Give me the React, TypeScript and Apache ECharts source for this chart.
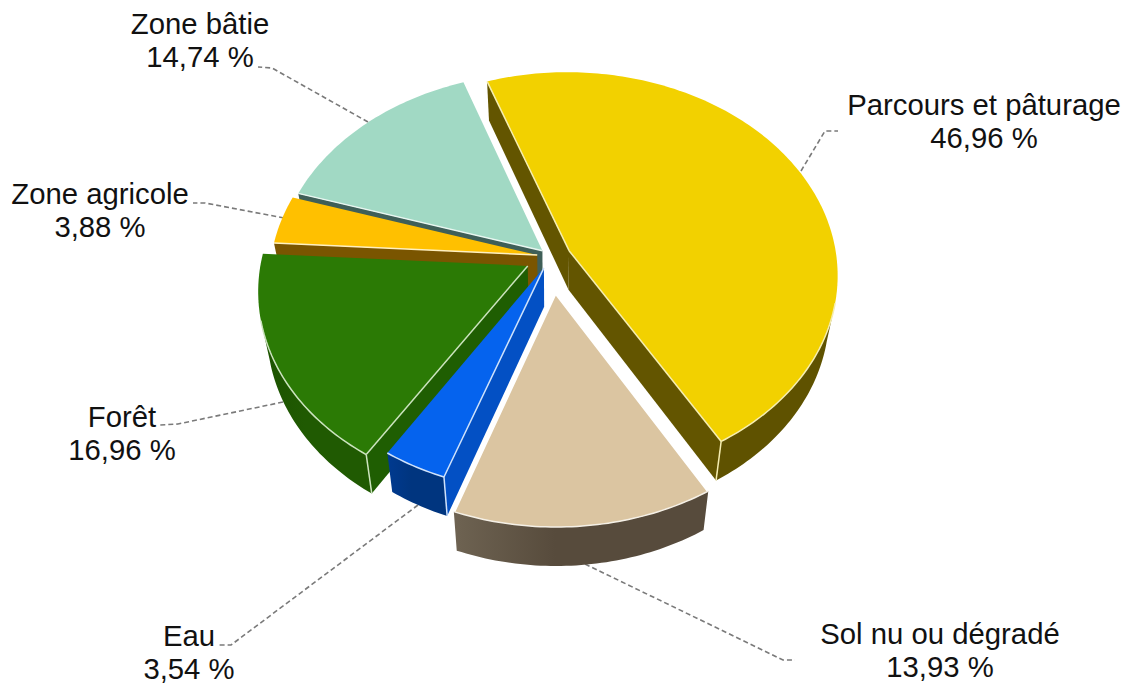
import React, { useEffect, useRef } from "react";
import * as echarts from "echarts";

const categories = ["Parcours et pâturage", "Sol nu ou dégradé", "Eau", "Forêt", "Zone agricole", "Zone bâtie"];
const shares = [46.96, 13.93, 3.54, 16.96, 3.88, 14.74];
const explosion = [20, 47, 16, 26, 14, 12];
const radii = [267.5, 264.5, 261, 266, 266, 266];
const paintOrder = [5, 4, 3, 2, 0, 1];

const topColors = ["#F2D100", "#DBC5A1", "#0563EE", "#2B7A05", "#FFC000", "#A1D9C4"];
const cutColors = ["#635500", "#5C5040", "#0350C4", "#1F5E02", "#7A5500", "#3F5F58"];
const wallLeft = ["#5F5200", "#6E6352", "#003A90", "#1C5200", "#7A5500", "#3F5F58"];
const wallRight = ["#5F5200", "#574B3C", "#00357F", "#205A02", "#7A5500", "#3F5F58"];
const edgeColors = ["#F5EDB0", "#F5F0E6", "#CFE2FB", "#CBE3BE", "#FFF0C0", "#E8F6F0"];

const labelCentres = [[984, 121], [940, 650], [189, 652], [122, 433], [100, 210], [200, 40]];
const leaders = [
  [[801, 171], [825, 131], [838, 131]],
  [[585, 564], [783, 660], [795, 660]],
  [[418, 505], [231, 645], [218, 645]],
  [[283, 402], [178, 424], [160, 425]],
  [[284, 218], [205, 203], [193, 203]],
  [[368, 122], [272, 68], [258, 67]],
];

const CX = 551, CY = 257, TILT = 0.75, PERSP = 2300, DEPTH = 39, START = -19.5;
const total = shares.reduce((a, b) => a + b, 0);
const rad = (d: number) => (d * Math.PI) / 180;

function project(u: number, v: number) {
  const s = 1 / (1 - v / PERSP);
  return [CX + u * s, CY + TILT * v * s];
}
const drop = (p: number[]) => [p[0] - (p[0] - CX) * 0.03, p[1] + DEPTH];

function sliceAngles(i: number) {
  const before = shares.slice(0, i).reduce((a, b) => a + b, 0);
  const a0 = START + (before / total) * 360;
  return [a0, a0 + (shares[i] / total) * 360];
}

function renderSlice(_params: any, api: any) {
  const i = api.value(1);
  const R = radii[i];
  const [a0, a1] = sliceAngles(i);
  const mid = rad((a0 + a1) / 2);
  const ou = Math.sin(mid) * explosion[i];
  const ov = -Math.cos(mid) * explosion[i];
  const rim = (deg: number) => project(ou + R * Math.sin(rad(deg)), ov - R * Math.cos(rad(deg)));
  const apex = project(ou, ov);
  const arc: number[][] = [];
  const front: number[][] = [];
  const steps = Math.max(4, Math.ceil(a1 - a0));
  for (let k = 0; k <= steps; k++) {
    const d = a0 + ((a1 - a0) * k) / steps;
    arc.push(rim(d));
    if (Math.cos(rad(d)) < -0.25) front.push(rim(d));
  }
  const children: any[] = [];
  const cut = (p: number[]) => ({
    type: "polygon",
    shape: { points: [apex, p, drop(p), drop(apex)] },
    style: { fill: cutColors[i] },
  });
  const startVisible = Math.sin(rad(a0)) < 0;
  const endVisible = Math.sin(rad(a1)) > 0;
  const pS = rim(a0);
  const pE = rim(a1);
  if (startVisible) children.push(cut(pS));
  if (endVisible) children.push(cut(pE));
  if (front.length > 1) {
    children.push({
      type: "polygon",
      shape: { points: [...front, ...front.slice().reverse().map(drop)] },
      style: {
        fill: new echarts.graphic.LinearGradient(0, 0, 1, 0, [
          { offset: 0, color: wallLeft[i] },
          { offset: 0.4, color: wallRight[i] },
          { offset: 1, color: wallRight[i] },
        ]),
      },
    });
  }
  children.push({
    type: "polygon",
    shape: { points: [apex, ...arc] },
    style: { fill: topColors[i] },
  });
  const line = (pts: number[][], w = 1.5) => ({
    type: "polyline",
    shape: { points: pts },
    style: { stroke: edgeColors[i], lineWidth: w, fill: "none" },
  });
  if (i === 1) {
    children.push({
      type: "polyline",
      shape: { points: [pS, apex, pE].reverse() },
      style: { stroke: "#ffffff", lineWidth: 3, fill: "none" },
    });
  }
  if (startVisible) {
    children.push(line([apex, pS]));
    if (Math.cos(rad(a0)) < 0) children.push(line([pS, drop(pS)]));
  }
  if (endVisible) {
    children.push(line([apex, pE]));
    if (Math.cos(rad(a1)) < 0) children.push(line([pE, drop(pE)]));
  }
  if (front.length > 1) children.push(line(front));
  return { type: "group", children };
}

const percent = (v: number) => v.toFixed(2).replace(".", ",") + " %";

export default function App() {
  const ref = useRef<HTMLDivElement>(null);
  useEffect(() => {
    document.body.style.margin = "0";
    const chart = echarts.init(ref.current!, undefined, { renderer: "svg" });
    chart.setOption({
      animation: false,
      backgroundColor: "#ffffff",
      graphic: [
        ...leaders.map((pts) => ({
          type: "polyline",
          z: 1,
          shape: { points: pts },
          style: { stroke: "#7a7a7a", lineWidth: 1.6, lineDash: [5, 3], fill: "none" },
        })),
        ...categories.map((name, i) => ({
          type: "text",
          z: 5,
          x: labelCentres[i][0],
          y: labelCentres[i][1],
          style: {
            text: name + "\n" + percent(shares[i]),
            fill: "#111111",
            font: '29.3px "Liberation Sans", Arial, sans-serif',
            lineHeight: 33,
            align: "center",
            verticalAlign: "middle",
          },
        })),
      ],
      series: [
        {
          type: "custom",
          coordinateSystem: "none",
          silent: true,
          z: 3,
          clip: false,
          renderItem: renderSlice,
          data: paintOrder.map((i) => [shares[i], i]),
        },
      ],
    });
    return () => chart.dispose();
  }, []);
  return <div ref={ref} style={{ width: 1129, height: 684 }} />;
}
